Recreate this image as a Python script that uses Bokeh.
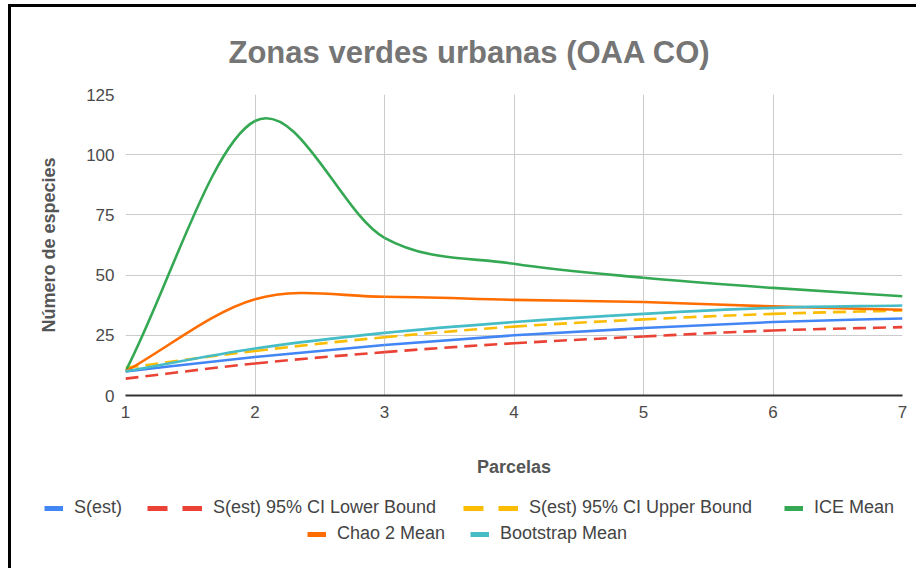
from bokeh.plotting import figure
from bokeh.models import Legend, LegendItem, FixedTicker, Range1d
from bokeh.embed import file_html
from bokeh.resources import INLINE

# ---------------- data ----------------
parcelas = [1, 2, 3, 4, 5, 6, 7]
s_est = [10, 16, 21, 25, 28, 30.5, 32]
ci_lower = [7, 13.3, 18, 21.7, 24.5, 27, 28.4]
ci_upper = [11.5, 18.5, 24.2, 28.6, 31.6, 33.9, 35.3]
ice_mean = [10, 114, 65.5, 54.7, 48.9, 44.7, 41.2]
chao2_mean = [10, 40, 41, 39.7, 38.8, 37, 35.6]
bootstrap_mean = [10, 19.5, 26, 30.5, 33.9, 36.4, 37.4]

series_names = ["S(est)", "S(est) 95% CI Lower Bound", "S(est) 95% CI Upper Bound",
                "ICE Mean", "Chao 2 Mean", "Bootstrap Mean"]
series_values = [s_est, ci_lower, ci_upper, ice_mean, chao2_mean, bootstrap_mean]
series_colors = ["#4285F4", "#EA4335", "#FBBC04", "#34A853", "#FF6D01", "#46BDC6"]
series_dashed = [False, True, True, False, False, False]
y_ticks = [0, 25, 50, 75, 100, 125]

FONT = "Liberation Sans"

# page geometry (content origin after margin + border)
ORIGIN_X, ORIGIN_Y = 11, 7
W = 908
MAIN_H = 488
LEG_TOP = ORIGIN_Y + MAIN_H
LEG_H = 571 - LEG_TOP
FRAME_L, FRAME_R, FRAME_T, FRAME_B = 125, 902, 94, 395

p = figure(width=W, height=MAIN_H, output_backend="svg", toolbar_location=None,
           x_range=Range1d(1, 7), y_range=Range1d(0, 125),
           min_border_left=FRAME_L - ORIGIN_X,
           min_border_right=ORIGIN_X + W - FRAME_R,
           min_border_top=FRAME_T - ORIGIN_Y,
           min_border_bottom=ORIGIN_Y + MAIN_H - FRAME_B)
p.outline_line_color = None
p.styles = {"margin-left": "8px", "margin-top": "4px",
            "border-top": "3px solid black", "border-left": "3px solid black"}

# title
p.title.text = "Zonas verdes urbanas  (OAA CO)"
p.title.align = "left"
p.title.vertical_align = "top"
p.title.offset = 103
p.title.standoff = 46
p.title.text_font = FONT
p.title.text_font_size = "31px"
p.title.text_font_style = "bold"
p.title.text_color = "#757575"

# axes
p.xaxis.ticker = FixedTicker(ticks=parcelas)
p.yaxis.ticker = FixedTicker(ticks=y_ticks)
for ax in (p.xaxis[0], p.yaxis[0]):
    ax.major_tick_line_color = None
    ax.minor_tick_line_color = None
    ax.major_label_text_font = FONT
    ax.major_label_text_font_size = "17px"
    ax.major_label_text_color = "#4a4a4a"
    ax.axis_label_text_font = FONT
    ax.axis_label_text_font_size = "18px"
    ax.axis_label_text_font_style = "bold"
    ax.axis_label_text_color = "#555555"
p.xaxis.axis_line_color = "#333333"
p.xaxis.axis_line_width = 2
p.yaxis.axis_line_color = None
p.xaxis.axis_label = "Parcelas"
p.yaxis.axis_label = "Número de especies"
p.xaxis.major_label_standoff = 4
p.xaxis.axis_label_standoff = 36
p.yaxis.major_label_standoff = 5
p.yaxis.axis_label_standoff = 24

p.xgrid.ticker = FixedTicker(ticks=parcelas)
p.ygrid.ticker = FixedTicker(ticks=y_ticks)
p.xgrid.grid_line_color = "#cccccc"
p.ygrid.grid_line_color = "#cccccc"


def bezier_parts(xs, ys):
    n = len(xs)
    out = {k: [] for k in ("x0", "y0", "x1", "y1", "cx0", "cy0", "cx1", "cy1")}
    for i in range(n - 1):
        pm = max(i - 1, 0)
        pp = min(i + 2, n - 1)
        m0 = (ys[i + 1] - ys[pm]) / (xs[i + 1] - xs[pm])
        m1 = (ys[pp] - ys[i]) / (xs[pp] - xs[i])
        h = xs[i + 1] - xs[i]
        out["x0"].append(xs[i]); out["y0"].append(ys[i])
        out["x1"].append(xs[i + 1]); out["y1"].append(ys[i + 1])
        out["cx0"].append(xs[i] + h / 3); out["cy0"].append(ys[i] + m0 * h / 3)
        out["cx1"].append(xs[i + 1] - h / 3); out["cy1"].append(ys[i + 1] - m1 * h / 3)
    return out


for name, vals, col, dashed in zip(series_names, series_values, series_colors, series_dashed):
    parts = bezier_parts(parcelas, vals)
    p.bezier(line_color=col, line_width=2.6,
             line_dash="13 7" if dashed else "solid", **parts)

# legend figure (separate root; two centered rows, one legend per entry)
lf = figure(width=W, height=LEG_H, output_backend="svg", toolbar_location=None,
            x_axis_type=None, y_axis_type=None,
            x_range=Range1d(1, 7), y_range=Range1d(1000, 1001),
            min_border_left=0, min_border_right=0, min_border_top=0, min_border_bottom=0)
lf.outline_line_color = None
lf.xgrid.visible = False
lf.ygrid.visible = False
lf.title.visible = False
lf.styles = {"margin-left": "8px", "border-left": "3px solid black"}

legend_pos = [(44, 511), (147, 511), (463, 511), (784, 511), (307, 537), (470, 537)]
for name, vals, col, dashed, (px, py) in zip(series_names, series_values, series_colors,
                                             series_dashed, legend_pos):
    # series drawn off-range: only its legend icon is visible
    proxy = lf.line(parcelas, vals, line_color=col, line_width=5,
                    line_dash="20 15" if dashed else "solid")
    gw = 55 if dashed else 19
    leg = Legend(items=[LegendItem(label=name, renderers=[proxy])],
                 location=(px - ORIGIN_X, 571 - (py + 10)),
                 orientation="horizontal", glyph_width=gw, glyph_height=20,
                 label_height=20, label_standoff=11, padding=0, margin=0, spacing=0,
                 border_line_alpha=0, background_fill_alpha=0,
                 label_text_font=FONT, label_text_font_size="18px",
                 label_text_color="#444444", label_text_baseline="middle")
    lf.add_layout(leg)

open("out.html", "w").write(file_html([p, lf], INLINE))
